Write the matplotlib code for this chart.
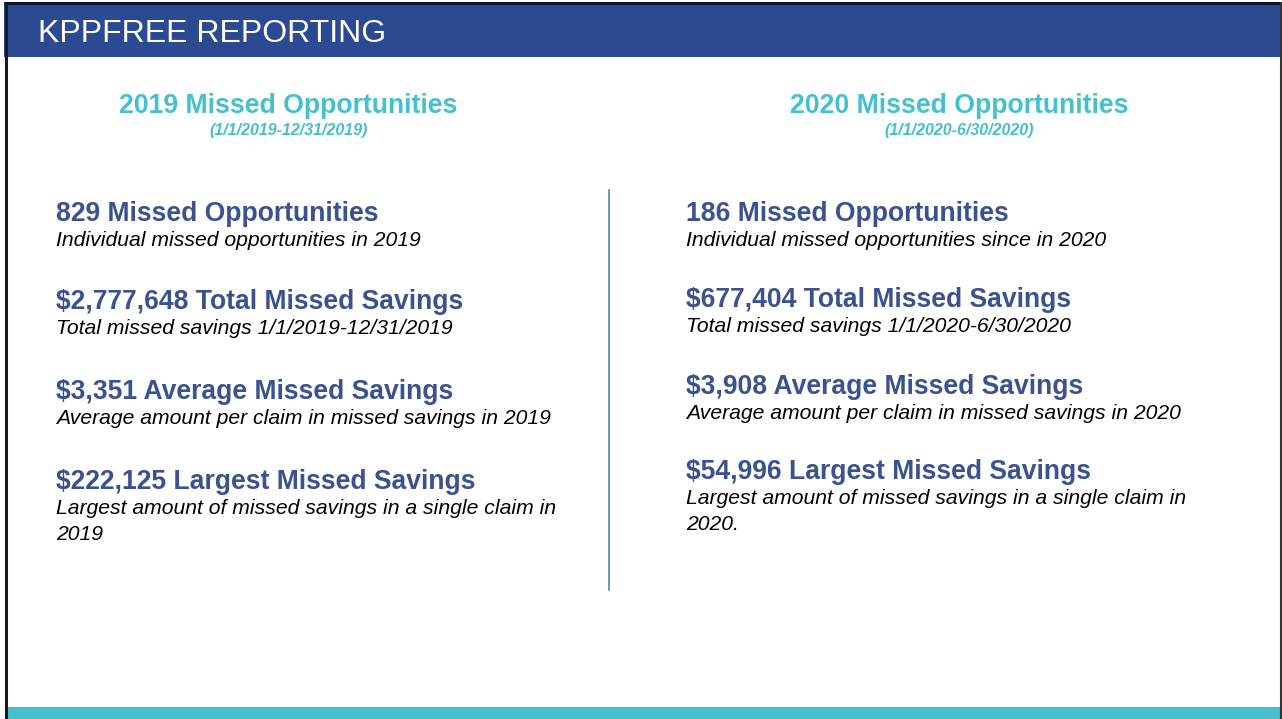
import matplotlib
matplotlib.use("Agg")
import matplotlib.pyplot as plt
from matplotlib.patches import Rectangle

plt.rcParams['font.family'] = ['Liberation Sans', 'DejaVu Sans']

# ---- data ----
slide_title = "KPPFREE REPORTING"
period_titles = ["2019 Missed Opportunities", "2020 Missed Opportunities"]
period_ranges = ["(1/1/2019-12/31/2019)", "(1/1/2020-6/30/2020)"]

stats_2019 = ["829 Missed Opportunities",
              "$2,777,648 Total Missed Savings",
              "$3,351 Average Missed Savings",
              "$222,125 Largest Missed Savings"]
desc_2019 = ["Individual missed opportunities in 2019",
             "Total missed savings 1/1/2019-12/31/2019",
             "Average amount per claim in missed savings in 2019",
             "Largest amount of missed savings in a single claim in\n2019"]

stats_2020 = ["186 Missed Opportunities",
              "$677,404 Total Missed Savings",
              "$3,908 Average Missed Savings",
              "$54,996 Largest Missed Savings"]
desc_2020 = ["Individual missed opportunities since in 2020",
             "Total missed savings 1/1/2020-6/30/2020",
             "Average amount per claim in missed savings in 2020",
             "Largest amount of missed savings in a single claim in\n2020."]

# ---- style ----
W, H = 1282, 719
BLUE = "#2B4A91"
TEAL = "#45C1CE"
STAT = "#3B5290"

fig = plt.figure(figsize=(W / 100, H / 100), dpi=100)
ax = fig.add_axes([0, 0, 1, 1])
ax.set_xlim(0, W)
ax.set_ylim(H, 0)
ax.axis("off")

# frame / header / footer
ax.add_patch(Rectangle((4, 2), W - 6, 55, facecolor=BLUE, edgecolor="none"))
ax.plot([4, W - 2], [3, 3], color="#0B1530", lw=2.2, solid_capstyle="butt")
ax.plot([5.5, 5.5], [2, H], color="#1A1A1A", lw=2.2, solid_capstyle="butt")
ax.plot([W - 1.5, W - 1.5], [2, H], color="#333333", lw=1.5, solid_capstyle="butt")
ax.add_patch(Rectangle((6, 707), W - 8, 12, facecolor=TEAL, edgecolor="none"))

ax.text(38, 34, slide_title, color="white", fontsize=23, ha="left", va="center")

# period headings
centers = [288.5, 959]
for cx, t, r in zip(centers, period_titles, period_ranges):
    ax.text(cx, 106, t, color=TEAL, fontsize=19.2, fontweight="bold",
            ha="center", va="center")
    ax.text(cx, 131, r, color=TEAL, fontsize=11.5, fontweight="bold",
            style="italic", ha="center", va="center")

# separator
ax.plot([609, 609], [190, 590], color="#5B8DB8", lw=1.3)

# stats
def draw_column(x, ys, stats, descs):
    for y, s, d in zip(ys, stats, descs):
        ax.text(x, y + 2, s, color=STAT, fontsize=19.1, fontweight="bold",
                ha="left", va="center")
        ax.text(x, y + 19, d, color="black", fontsize=15.2, style="italic",
                ha="left", va="top", linespacing=1.5)

draw_column(56, [212, 300, 390, 480], stats_2019, desc_2019)
draw_column(686, [212, 298, 385, 470], stats_2020, desc_2020)

fig.savefig("out.png", dpi=100, facecolor="white")
